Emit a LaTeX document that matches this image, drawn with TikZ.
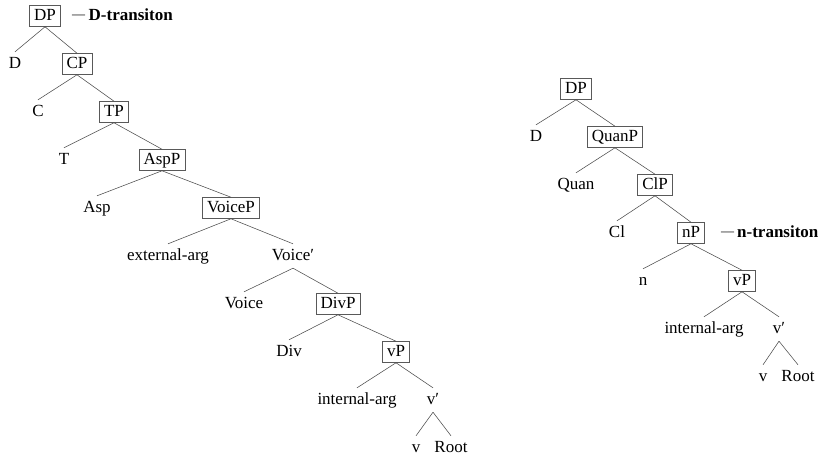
\documentclass[tikz,border=0pt]{standalone}
\usepackage{fontspec}
\setmainfont{Liberation Serif}
\newcommand{\notedash}{\raisebox{1.6pt}{\fontsize{13}{15}\selectfont —}}
\begin{document}
\begin{tikzpicture}[x=1pt,y=-1pt,
  every node/.style={font=\fontsize{17}{20}\selectfont, text height=11.5pt, text depth=3.5pt},
  box/.style={draw=black!65, line width=0.55pt, inner xsep=4.5pt, inner ysep=3pt},
  leaf/.style={inner xsep=2pt, inner ysep=4.5pt},
  br/.style={draw=black!70, line width=0.55pt},
  note/.style={anchor=base west, inner sep=0pt, text height=, text depth=}]
\useasboundingbox (0,0) rectangle (821,456);
% left tree
\node[box]  (L0)  at (45,16)   {DP};
\node[leaf] (L1a) at (15,64)   {D};
\node[box]  (L1)  at (77,64)   {CP};
\node[leaf] (L2a) at (38,112)  {C};
\node[box]  (L2)  at (114,112) {TP};
\node[leaf] (L3a) at (64,160)  {T};
\node[box]  (L3)  at (162,160) {AspP};
\node[leaf] (L4a) at (97,208)  {Asp};
\node[box]  (L4)  at (231,208) {VoiceP};
\node[leaf] (L5a) at (168,256) {external-arg};
\node[leaf] (L5)  at (293,256) {Voice′};
\node[leaf] (L6a) at (244,304) {Voice};
\node[box]  (L6)  at (338,304) {DivP};
\node[leaf] (L7a) at (289,352) {Div};
\node[box]  (L7)  at (396,352) {vP};
\node[leaf] (L8a) at (357,400) {internal-arg};
\node[leaf] (L8)  at (433,400) {v′};
\node[leaf] (L9a) at (416,448) {v};
\node[leaf] (L9b) at (451,448) {Root};
\node[note] (Lnote) at (72,20) {\notedash\hspace{3.5pt}\textbf{D-transiton}};
\foreach \p/\a/\b in {L0/L1a/L1, L1/L2a/L2, L2/L3a/L3, L3/L4a/L4, L4/L5a/L5, L5/L6a/L6, L6/L7a/L7, L7/L8a/L8, L8/L9a/L9b}{
  \draw[br] (\p.south) -- (\a.north);
  \draw[br] (\p.south) -- (\b.north);
}
% right tree
\node[box]  (R0)  at (576,89)  {DP};
\node[leaf] (R1a) at (536,137) {D};
\node[box]  (R1)  at (615,137) {QuanP};
\node[leaf] (R2a) at (576,185) {Quan};
\node[box]  (R2)  at (655,185) {ClP};
\node[leaf] (R3a) at (617,233) {Cl};
\node[box]  (R3)  at (691,233) {nP};
\node[leaf] (R4a) at (643,281) {n};
\node[box]  (R4)  at (742,281) {vP};
\node[leaf] (R5a) at (704,329) {internal-arg};
\node[leaf] (R5)  at (779,329) {v′};
\node[leaf] (R6a) at (763,377) {v};
\node[leaf] (R6b) at (798,377) {Root};
\node[note] (Rnote) at (721,237) {\notedash\hspace{3pt}\textbf{n-transiton}};
\foreach \p/\a/\b in {R0/R1a/R1, R1/R2a/R2, R2/R3a/R3, R3/R4a/R4, R4/R5a/R5, R5/R6a/R6b}{
  \draw[br] (\p.south) -- (\a.north);
  \draw[br] (\p.south) -- (\b.north);
}
\end{tikzpicture}
\end{document}
